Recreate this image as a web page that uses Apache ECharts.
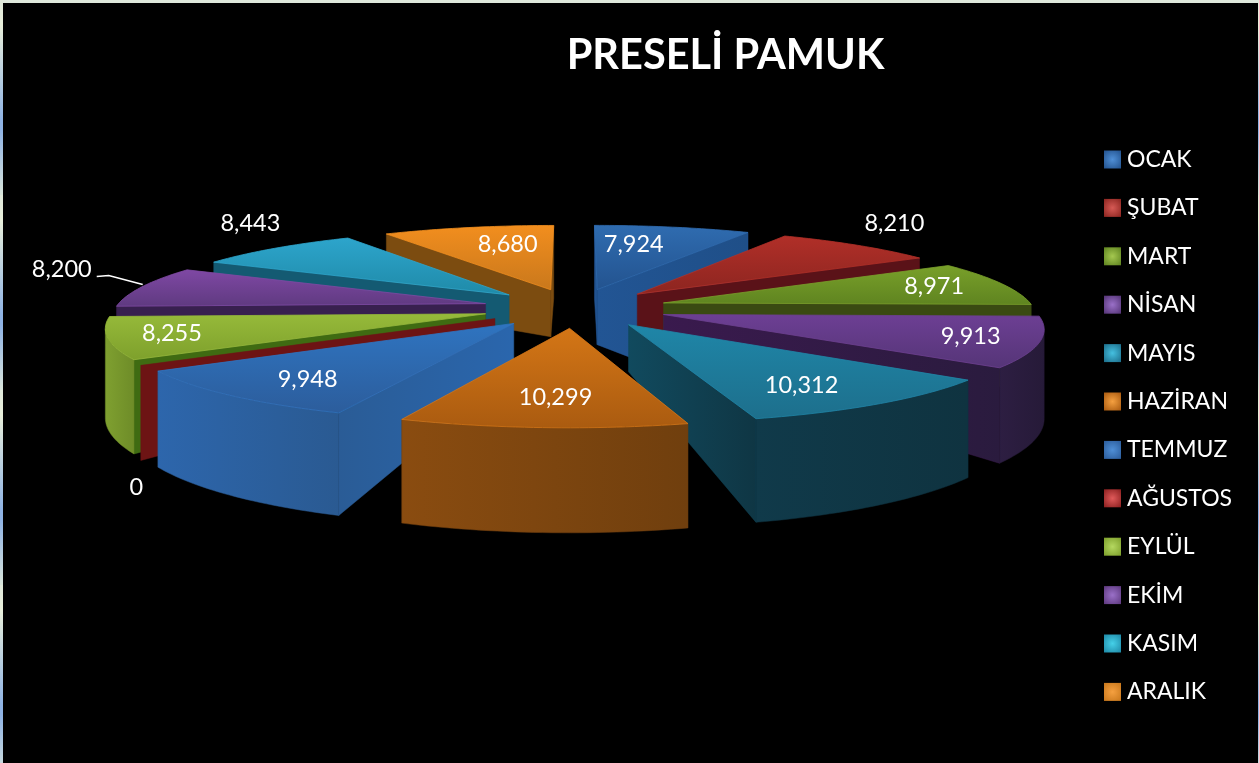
<!DOCTYPE html>
<html><head><meta charset="utf-8">
<style>
html,body{margin:0;padding:0;background:#000;overflow:hidden}
#c{position:absolute;left:0;top:0;width:1259px;height:763px}
.e{position:absolute;z-index:5}
#t{left:0;top:0;width:1259px;height:3px;background:#dfe8dc}
#l,#r{top:0;height:763px;background:repeating-linear-gradient(#e0e8da 0,#e8eeda 25px,#8fb3e4 120px,#8fb3e4 130px,#d9e4da 195px)}
#l{left:0;width:3px}
#r{right:0;width:1px}
</style>
<script src="https://cdn.jsdelivr.net/npm/echarts@6/dist/echarts.min.js"></script>
</head><body><div id="c"></div><div class="e" id="t"></div><div class="e" id="l"></div><div class="e" id="r"></div>
<script>
const months = ['OCAK','ŞUBAT','MART','NİSAN','MAYIS','HAZİRAN','TEMMUZ','AĞUSTOS','EYLÜL','EKİM','KASIM','ARALIK'];
const values = [7924,8210,8971,9913,10312,10299,9948,0,8255,8200,8443,8680];
const topLight = ['#2f6cb0','#b12f28','#79a02a','#6d3f94','#1f86a8','#d47616','#2f74c0','#6d1414','#96ba3a','#7f48a4','#2da5cc','#f28e1e'];
const topDark  = ['#23538f','#8c2520','#5f8420','#553577','#1d6f8c','#aa5b10','#2c5d9c','#6d1414','#7ea02c','#5f3a80','#1f8aa8','#c9781c'];
const rimLeft  = ['#1f4f88','#5a1414','#3d5016','#2d1e42','#103a4a','#8a4c10','#2d66ac','#6d1414','#7fa030','#3a2355','#146079','#85500f'];
const rimRight = ['#1f4f88','#5a1414','#3d5016','#261a38','#0f3340','#703f0e','#2a5a92','#6d1414','#6e8c28','#3a2355','#146079','#85500f'];
const sideLeft = ['#225594','#5a1218','#3a4a12','#3a1a4e','#114a5e','#8a4d10','#2a5c96','#6d1414','#3f6b12','#38204f','#145a72','#7c4c10'];
const sideRight= ['#1f4f88','#5a1218','#3a4a12','#2a1b3e','#0f3644','#8a4d10','#2a66ad','#6d1414','#3f6b12','#38204f','#145a72','#7c4c10'];
const swatch   = ['#4f8fd6','#d65a55','#a5c850','#9a70c8','#45c0e0','#f5a040','#4f8fd6','#e05a5a','#b5d860','#9a70c8','#45d0e8','#f5a040'];
const swatchEdge=['#23538f','#8c2520','#5f8420','#553577','#1d6f8c','#aa5b10','#2c5d9c','#8c2020','#7ea02c','#5f3a80','#1f8aa8','#c9781c'];
const labelShift = [[-11,-6],[120,-40],[65,-5],[86,6],[30,16],[1,13],[-44,15],[-153,142],[-91,5],[-215,-24],[-113,-42],[9,-6]];
const apexDrop = [55,47,47,47,47,47,47,47,47,47,47,47];
const rimDropScale = [2.3,1,1,1,1,1,1,1,1,1,1,1];

// view of the exploded 3D pie
const cx=575, cy=308, A=370, B=78.5, k=0.145, explode=0.25, rimH=86, STEPS=32;
const project=(x,y,h)=>{const D=1-k*y;return [cx+A*x/D, cy+B*y/D+(h||0)];};

const total=values.reduce((a,b)=>a+b,0);
const rad=[];let acc=0;
values.forEach(v=>{const s=acc/total*2*Math.PI;acc+=v;rad.push([s,acc/total*2*Math.PI]);});
const mid=i=>(rad[i][0]+rad[i][1])/2;
const offs=i=>[explode*Math.sin(mid(i)),-explode*Math.cos(mid(i))];

function hgrad(a,b){return {type:'linear',x:0,y:0,x2:1,y2:0,colorStops:[{offset:0,color:a},{offset:1,color:b}]};}
function vgrad(a,b){return {type:'linear',x:0,y:0,x2:0,y2:1,colorStops:[{offset:0,color:a},{offset:1,color:b}]};}

function renderSlice(i){
  const [ox,oy]=offs(i),[s,e]=rad[i];
  const g=(t,r)=>[ox+r*Math.sin(t),oy-r*Math.cos(t)];
  const apexTop=project(ox,oy), apexBot=project(ox,oy,apexDrop[i]);
  const rimPt=(t,down)=>{const [x,y]=g(t,1);return project(x,y,down?rimH/(1-k*y):0);};
  const arc=[],arcB=[];
  for(let j=0;j<=STEPS;j++){const t=s+(e-s)*j/STEPS;arc.push(rimPt(t));arcB.push(rimPt(t,true));}
  const kids=[];
  const wall=(c,scale)=>{
    const bot=[arc[c][0],arc[c][1]+(arcB[c][1]-arc[c][1])*scale];
    return {type:'polygon',silent:true,shape:{points:[apexTop,arc[c],bot,apexBot]},
      style:{fill:hgrad(sideLeft[i],sideRight[i]),stroke:sideLeft[i],lineWidth:0.5}};
  };
  if(arc[0][0]<apexTop[0]) kids.push(wall(0,1));
  if(apexTop[0]<arc[STEPS][0]&&values[i]>0) kids.push(wall(STEPS,rimDropScale[i]));
  if(values[i]>0){
    const runT=[],runB=[];
    for(let j=0;j<STEPS;j++){
      if(arc[j+1][0]<arc[j][0]){ if(!runT.length){runT.push(arc[j]);runB.push(arcB[j]);} runT.push(arc[j+1]);runB.push(arcB[j+1]); }
    }
    if(runT.length) kids.push({type:'polygon',silent:true,shape:{points:runT.concat(runB.slice().reverse())},
      style:{fill:hgrad(rimLeft[i],rimRight[i]),stroke:rimRight[i],lineWidth:0.5}});
    kids.push({type:'polygon',silent:true,shape:{points:[apexTop].concat(arc)},
      style:{fill:vgrad(topLight[i],topDark[i]),stroke:topLight[i],lineWidth:1,strokeOpacity:0.8}});
  }
  return {type:'group',children:kids};
}

function renderLabel(i){
  const [ux,uy]=[Math.sin(mid(i)),-Math.cos(mid(i))];
  const p=project(0.85*ux,0.85*uy);
  const x=p[0]+labelShift[i][0], y=p[1]+labelShift[i][1];
  const kids=[{type:'text',silent:true,style:{text:values[i].toLocaleString('en-US'),x:x,y:y,align:'center',verticalAlign:'middle',
    fill:'#fff',font:'23.5px Lato, "Open Sans", sans-serif'}}];
  if(months[i]==='EKİM') kids.push({type:'polyline',silent:true,shape:{points:[[x+35,y+7],[x+47,y+6],[x+81,y+15]]},
    style:{fill:'none',stroke:'#fff',lineWidth:1.6}});
  return {type:'group',children:kids};
}

const order=months.map((m,i)=>i).sort((a,b)=>offs(a)[1]-offs(b)[1]);
const series=order.map(i=>({
  type:'custom',name:months[i],coordinateSystem:'none',silent:true,
  itemStyle:{color:{type:'radial',x:0.5,y:0.5,r:0.7,colorStops:[{offset:0,color:swatch[i]},{offset:1,color:swatchEdge[i]}]}},
  data:[[values[i],i]],
  renderItem:()=>renderSlice(i)
}));
series.push({type:'custom',name:'labels',coordinateSystem:'none',silent:true,z:10,
  data:values.map((v,i)=>[v,i]),
  renderItem:(p,api)=>renderLabel(api.value(1))});

const chart=echarts.init(document.getElementById('c'),null,{renderer:'canvas'});
chart.setOption({
  backgroundColor:'#000',animation:false,tooltip:{show:false},
  title:{text:'PRESELİ PAMUK',left:720.5,top:30,textAlign:'center',
    textStyle:{color:'#fff',fontFamily:'Lato, "Open Sans", sans-serif',fontWeight:'bold',fontSize:41.5}},
  legend:{data:months,orient:'vertical',left:1099,top:143,icon:'rect',itemWidth:17,itemHeight:18,itemGap:25.4,selectedMode:false,
    textStyle:{color:'#fff',fontFamily:'Lato, "Open Sans", sans-serif',fontSize:23,padding:[0,0,0,1]}},
  series:series
});
</script></body></html>
